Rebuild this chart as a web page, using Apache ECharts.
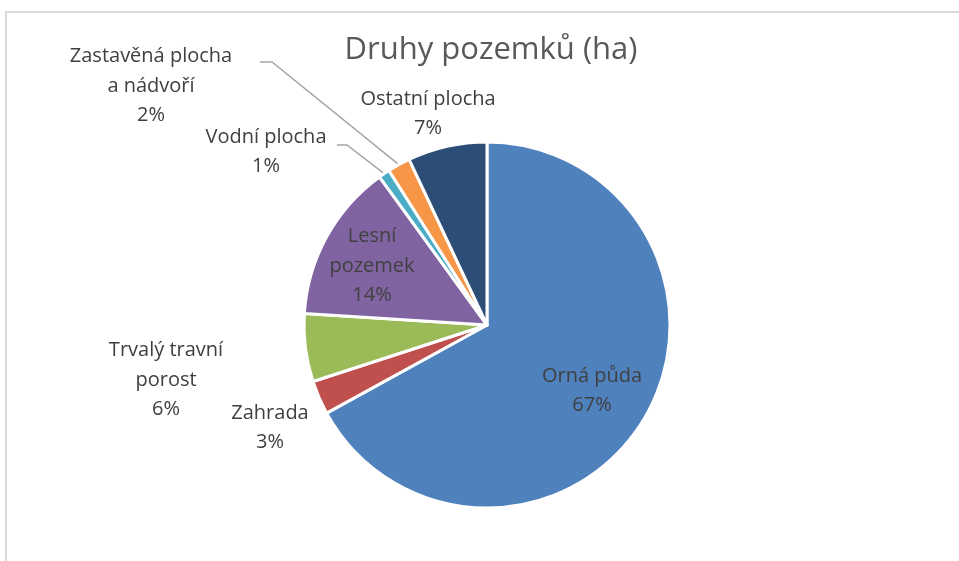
<!DOCTYPE html>
<html>
<head>
<meta charset="utf-8">
<title>Druhy pozemků (ha)</title>
<script src="https://cdn.jsdelivr.net/npm/echarts@6/dist/echarts.min.js"></script>
<style>
  html, body { margin: 0; padding: 0; background: #fff; }
  #chart { width: 959px; height: 561px; }
</style>
</head>
<body>
<div id="chart"></div>
<script>
// data
const categories = ['Orná půda', 'Zahrada', 'Trvalý travní porost', 'Lesní pozemek', 'Vodní plocha', 'Zastavěná plocha a nádvoří', 'Ostatní plocha']
const labelText = ['Orná půda', 'Zahrada', 'Trvalý travní\nporost', 'Lesní\npozemek', 'Vodní plocha', 'Zastavěná plocha\na nádvoří', 'Ostatní plocha']
const shares = [67, 3, 6, 14, 1, 2, 7]
const colors = ['#4F81BD', '#C0504D', '#9BBB59', '#8064A2', '#4BACC6', '#F79646', '#2C4D75']

// where each label sits (center), and where the leader line leaves it
const labelSpots = [
  { x: 592, y: 391 },
  { x: 270, y: 428 },
  { x: 166, y: 380 },
  { x: 372, y: 266 },
  { x: 266, y: 152, line: [[347, 145], [337, 145]] },
  { x: 151, y: 86, line: [[272, 62], [260, 62]] },
  { x: 428, y: 114 }
]

const chart = echarts.init(document.getElementById('chart'))

const seriesData = categories.map(function (name, i) {
  return {
    name: name,
    value: shares[i],
    itemStyle: { color: colors[i] },
    labelLine: { show: !!labelSpots[i].line }
  }
})

chart.setOption({
  backgroundColor: '#fff',
  animation: false,
  title: {
    text: 'Druhy pozemků (ha)',
    left: 486,
    top: 30,
    textAlign: 'center',
    textStyle: {
      fontFamily: 'Open Sans',
      fontWeight: 'normal',
      fontSize: 31,
      color: '#595959'
    }
  },
  graphic: [{
    type: 'rect',
    shape: { x: 6, y: 12, width: 1000, height: 600 },
    style: { fill: 'none', stroke: '#d9d9d9', lineWidth: 2 },
    silent: true
  }],
  series: [{
    type: 'pie',
    center: [487, 325],
    radius: 183,
    startAngle: 90,
    clockwise: true,
    avoidLabelOverlap: false,
    itemStyle: { borderColor: '#fff', borderWidth: 3 },
    label: {
      position: 'outside',
      fontFamily: 'Open Sans',
      fontSize: 20,
      lineHeight: 29.5,
      color: '#404040',
      align: 'center',
      formatter: function (p) {
        return labelText[p.dataIndex] + '\n' + Math.round(p.percent) + '%'
      }
    },
    labelLine: {
      length: 10,
      length2: 10,
      lineStyle: { color: '#a6a6a6', width: 1.5 }
    },
    labelLayout: function (params) {
      const spot = labelSpots[params.dataIndex]
      const res = { x: spot.x, y: spot.y, align: 'center', verticalAlign: 'middle' }
      if (spot.line && params.labelLinePoints) {
        const edge = params.labelLinePoints[0]
        res.labelLinePoints = [edge, spot.line[0], spot.line[1]]
      }
      return res
    },
    data: seriesData
  }]
})
</script>
</body>
</html>
